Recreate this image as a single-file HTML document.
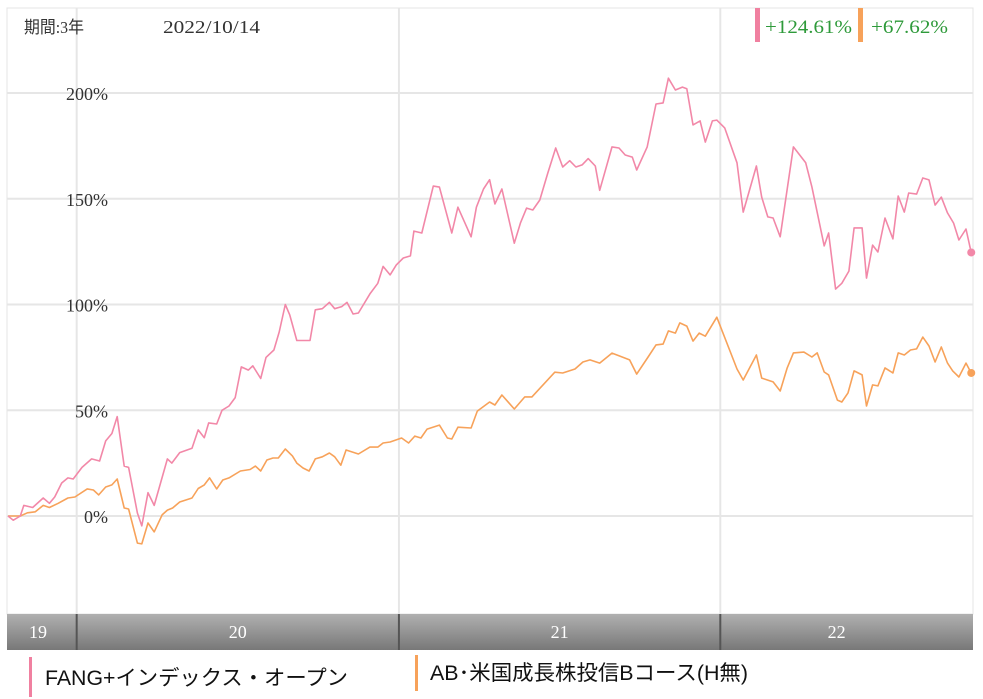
<!DOCTYPE html>
<html><head><meta charset="utf-8"><style>
body{margin:0;width:983px;height:699px;background:#fff;overflow:hidden;font-family:"Liberation Sans","Noto Sans CJK JP",sans-serif}
svg{position:absolute;left:0;top:0}
</style></head><body>
<svg width="983" height="699">
<rect x="7" y="8" width="966" height="606" fill="#fff" stroke="#e4e4e4"/>
<g id="grid"></g>
<g id="ylabels" font-family="Liberation Serif, serif" font-size="18" fill="#333"></g>
<text x="24" y="33" font-size="17" fill="#333" font-family="Liberation Serif, Noto Sans CJK JP, serif" textLength="60" lengthAdjust="spacingAndGlyphs">期間:3年</text>
<text x="163" y="33" font-size="18" fill="#333" font-family="Liberation Serif, serif" textLength="97" lengthAdjust="spacingAndGlyphs">2022/10/14</text>
<rect x="755" y="8" width="5" height="34" fill="#f080a0"/>
<text x="765" y="33" font-size="19" fill="#2e9a3a" font-family="Liberation Serif, serif" textLength="87" lengthAdjust="spacingAndGlyphs">+124.61%</text>
<rect x="858" y="8" width="5" height="34" fill="#f7a25a"/>
<text x="871" y="33" font-size="19" fill="#2e9a3a" font-family="Liberation Serif, serif" textLength="77" lengthAdjust="spacingAndGlyphs">+67.62%</text>
<g id="series"></g>
<defs><linearGradient id="bar" x1="0" y1="0" x2="0" y2="1"><stop offset="0" stop-color="#b0b0b0"/><stop offset="1" stop-color="#787878"/></linearGradient></defs>
<rect x="7" y="614" width="966" height="36" fill="url(#bar)"/>
<g id="xlabels" font-family="Liberation Serif, serif" font-size="18" fill="#fff" text-anchor="middle"></g>
<rect x="29" y="657" width="3" height="40" fill="#f080a0"/>
<text x="45" y="685" font-size="21" fill="#111" textLength="303" lengthAdjust="spacingAndGlyphs">FANG+インデックス・オープン</text>
<rect x="415" y="655" width="3" height="36" fill="#f7a25a"/>
<text x="430" y="680" font-size="21" fill="#111" textLength="318" lengthAdjust="spacingAndGlyphs">AB･米国成長株投信Bコース(H無)</text>
</svg>
<script>
const yTicks=[0,50,100,150,200];
const yearLabels=["19","20","21","22"];
const yearStartDays=[0,78,444,809];
const fangDays=[0,6,14,18,28,40,47,53,61,68,74,84,95,104,111,118,124,132,137,147,152,159,166,181,186,195,209,216,223,228,237,243,251,258,265,273,278,287,293,302,308,315,320,328,343,349,357,365,371,379,385,392,398,411,420,426,434,441,449,457,461,470,483,490,504,511,526,532,540,547,553,561,575,582,589,596,604,613,622,630,638,645,652,659,667,672,686,694,701,709,714,726,736,744,750,758,766,771,778,786,792,800,805,814,828,835,850,856,863,869,877,892,906,913,927,932,940,947,955,961,970,975,982,988,996,1005,1011,1018,1023,1032,1039,1046,1053,1060,1067,1074,1080,1088,1094];
const fangValues=[0,-2,0,5,4,8.5,6,9,15.6,18,17.5,23,27,26,35.5,39,47,23.6,23,1.4,-4.7,11,5,27,25,30,32,40.7,37,44,43.5,50,52,56,70.5,69,71,65,75,78.5,87,100,95,83,83,97.5,98,101,98,99,101,95.5,96,105,110,118,114,118.7,122,123,134.7,133.8,156,155.5,133.8,146,132,146,154.6,159,147.5,154.6,129,138.5,145.6,144.7,149.4,162,174,165,168,165,166,169,165.5,154,174.5,174,170.7,169.7,163.6,174.5,194.8,195.3,207,201.4,202.8,202,184.9,186.8,176.8,186.8,187.2,183.5,167,143.7,165.5,150.8,141.4,140.9,132,174.5,167,155.6,127.7,133.8,107.3,110,115.8,136.2,136.2,112.5,128.1,124.8,140.9,131,151.3,143.7,152.7,152.2,159.8,158.9,147,150.8,143.3,138.5,130.5,135.7,124.61];
const abDays=[0,14,22,31,40,47,57,68,76,90,97,103,111,118,124,132,137,147,152,159,166,175,181,187,195,209,216,223,229,237,244,251,264,275,281,287,294,301,307,315,323,328,335,342,349,357,365,371,378,384,398,411,420,426,434,447,455,462,469,476,490,499,504,511,526,533,547,553,561,575,587,595,621,630,644,653,661,672,686,695,706,714,727,736,744,750,758,763,771,778,785,792,805,828,835,850,856,869,877,885,892,904,913,919,927,932,942,947,954,961,970,975,982,988,996,1005,1011,1018,1025,1032,1039,1046,1053,1060,1067,1073,1080,1088,1094];
const abValues=[0,0,1.5,2,5,4,6,8.5,9,12.8,12.3,10,13.7,14.7,17.5,3.8,3.3,-12.8,-13.2,-3.3,-7.5,0.5,2.8,3.8,6.6,8.5,13,14.7,18,12.8,17,18,21.3,22,23.6,21.3,26.5,27.4,27.4,31.7,28.4,25,22.7,21.3,27,28,29.8,28,24,31.2,29.3,32.6,32.6,34.5,35,36.9,34.5,37.8,36.9,41.1,43,36.9,36.4,42,41.6,49.6,53.9,52.5,57.2,50.6,56.3,56.3,68,67.6,69.5,72.8,73.8,72.3,77,75.6,73.8,67.1,75.2,80.9,81.3,87.5,86.5,91.3,89.8,82.7,86.5,85,94,69.5,64.3,76.1,65.2,63.4,59.1,70,77.1,77.5,75.2,77.1,68.1,66.7,54.8,53.9,58.2,68.6,66.7,52,62,61.5,70,67.6,77.1,76.1,78.5,79,84.6,80.4,72.8,79.9,72.3,68.6,65.7,72.3,67.62];

const NS="http://www.w3.org/2000/svg";
const X0=8,X1=973,DAYS=1096,Y0=516,PXPCT=2.115;
function xs(d){return X0+d*(X1-X0)/DAYS;}
function ys(v){return Y0-v*PXPCT;}
function mk(tag,attrs,parent){const e=document.createElementNS(NS,tag);for(const k in attrs)e.setAttribute(k,attrs[k]);parent.appendChild(e);return e;}
const grid=document.getElementById('grid'),yl=document.getElementById('ylabels'),xl=document.getElementById('xlabels'),ser=document.getElementById('series');
yTicks.forEach(t=>{
  const l=mk('line',{x1:7,x2:973,y1:ys(t),y2:ys(t),stroke:'#e6e6e6','stroke-width':2},grid);
  
  
  const tx=mk('text',{x:108,y:ys(t)+7,'text-anchor':'end'},yl);tx.textContent=t+'%';
  
  
});
yearStartDays.forEach((d,i)=>{
  if(i>0){
    const g=mk('line',{x1:xs(d),x2:xs(d),y1:8,y2:614,stroke:'#e6e6e6','stroke-width':2},grid);
    
    
  }
  const end=i<yearStartDays.length-1?yearStartDays[i+1]:DAYS;
  const tx=mk('text',{x:i==0?38:(xs(d)+xs(end))/2-(i==3?10:0),y:638},xl);tx.textContent=yearLabels[i];
  
  
});
const svg=document.querySelector('svg');
yearStartDays.slice(1).forEach(d=>{
  const s=mk('line',{x1:xs(d),x2:xs(d),y1:614,y2:650,stroke:'#555','stroke-width':2},svg);
  
  
});
function line(days,vals,color,name){
  const p=mk('polyline',{points:days.map((d,i)=>xs(d).toFixed(1)+','+ys(vals[i]).toFixed(1)).join(' '),fill:'none',stroke:color,'stroke-width':1.6,'stroke-linejoin':'round'},ser);
  
  
  const n=days.length-1;
  const c=mk('circle',{cx:xs(days[n]),cy:ys(vals[n]),r:4,fill:color},ser);
  
  
}
line(abDays,abValues,'#f7a25a','ab-growth');
line(fangDays,fangValues,'#f288a8','fang-plus');
</script>
</body></html>
